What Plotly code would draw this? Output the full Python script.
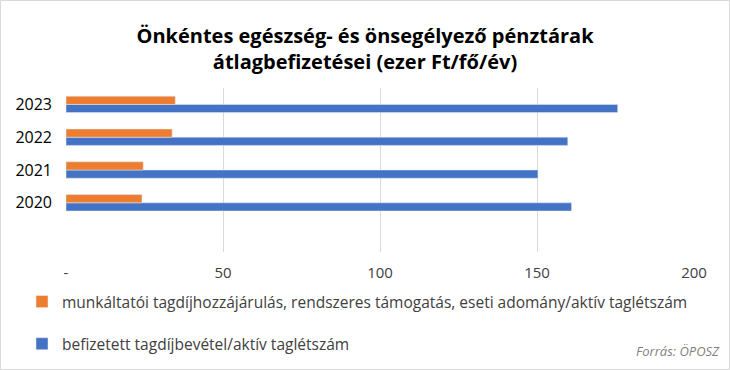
import plotly.graph_objects as go

years = ["2020", "2021", "2022", "2023"]
employer = [24.2, 24.6, 33.8, 34.8]
member = [161.0, 150.3, 159.8, 175.7]
x_tickvals = [0, 50, 100, 150, 200]
x_ticktext = ["-", "50", "100", "150", "200"]
name_employer = "munkáltatói tagdíjhozzájárulás, rendszeres támogatás, eseti adomány/aktív taglétszám"
name_member = "befizetett tagdíjbevétel/aktív taglétszám"
title = "Önkéntes egészség- és önsegélyező pénztárak<br>átlagbefizetései (ezer Ft/fő/év)"
source = "Forrás: ÖPOSZ"

FONT = "Open Sans"
ypos = list(range(len(years)))

fig = go.Figure()
fig.add_trace(go.Bar(y=ypos, x=member, orientation="h", name=name_member,
                     marker=dict(color="#4472C4"), legendgroup="b", legendrank=2))
fig.add_trace(go.Bar(y=ypos, x=employer, orientation="h", name=name_employer,
                     marker=dict(color="#ED7D31"), legendgroup="a", legendrank=1))

fig.update_layout(
    width=730, height=370,
    margin=dict(l=66, r=36, t=88, b=118, autoexpand=False),
    paper_bgcolor="white", plot_bgcolor="white",
    barmode="group", bargap=0.5, bargroupgap=0,
    font=dict(family=FONT, size=15, color="#404040"),
    title=dict(text="<b>" + title + "</b>", x=0.5, xanchor="center",
               yref="container", y=1 - 43 / 370, yanchor="middle",
               font=dict(family=FONT, size=20, color="#000000")),
    xaxis=dict(range=[0, 200], tickvals=x_tickvals, ticktext=x_ticktext,
               showgrid=True, gridcolor="#D9D9D9", gridwidth=1,
               zeroline=False, showline=False, ticks="",
               ticklabelstandoff=10,
               tickfont=dict(family=FONT, size=15, color="#404040")),
    yaxis=dict(range=[-1.5, 3.5], tickvals=ypos, ticktext=years,
               showgrid=False, zeroline=False, showline=False, ticks="",
               ticklabelstandoff=13,
               tickfont=dict(family=FONT, size=16, color="#000000")),
    legend=dict(xref="container", yref="container", x=22 / 730, y=1 - 285 / 370,
                xanchor="left", yanchor="top", orientation="v",
                tracegroupgap=19, traceorder="grouped",
                font=dict(family=FONT, size=15.5, color="#404040"),
                itemwidth=30, bgcolor="rgba(0,0,0,0)"),
    showlegend=True,
)

fig.add_annotation(text="<i>" + source + "</i>", xref="paper", yref="paper",
                   x=1 + 28 / 628, y=-(351 - 252) / 164, xanchor="right", yanchor="middle",
                   showarrow=False, font=dict(family=FONT, size=13, color="#7F7F7F"))

fig.add_shape(type="rect", xref="paper", yref="paper",
              x0=-65.5 / 628, x1=1 + 35.5 / 628, y0=-117.5 / 164, y1=1 + 87.5 / 164,
              line=dict(color="#D9D9D9", width=1), fillcolor="rgba(0,0,0,0)", layer="below")

fig.write_html("out.html", config={"displayModeBar": False},
               post_script="document.body.style.margin='0';")
